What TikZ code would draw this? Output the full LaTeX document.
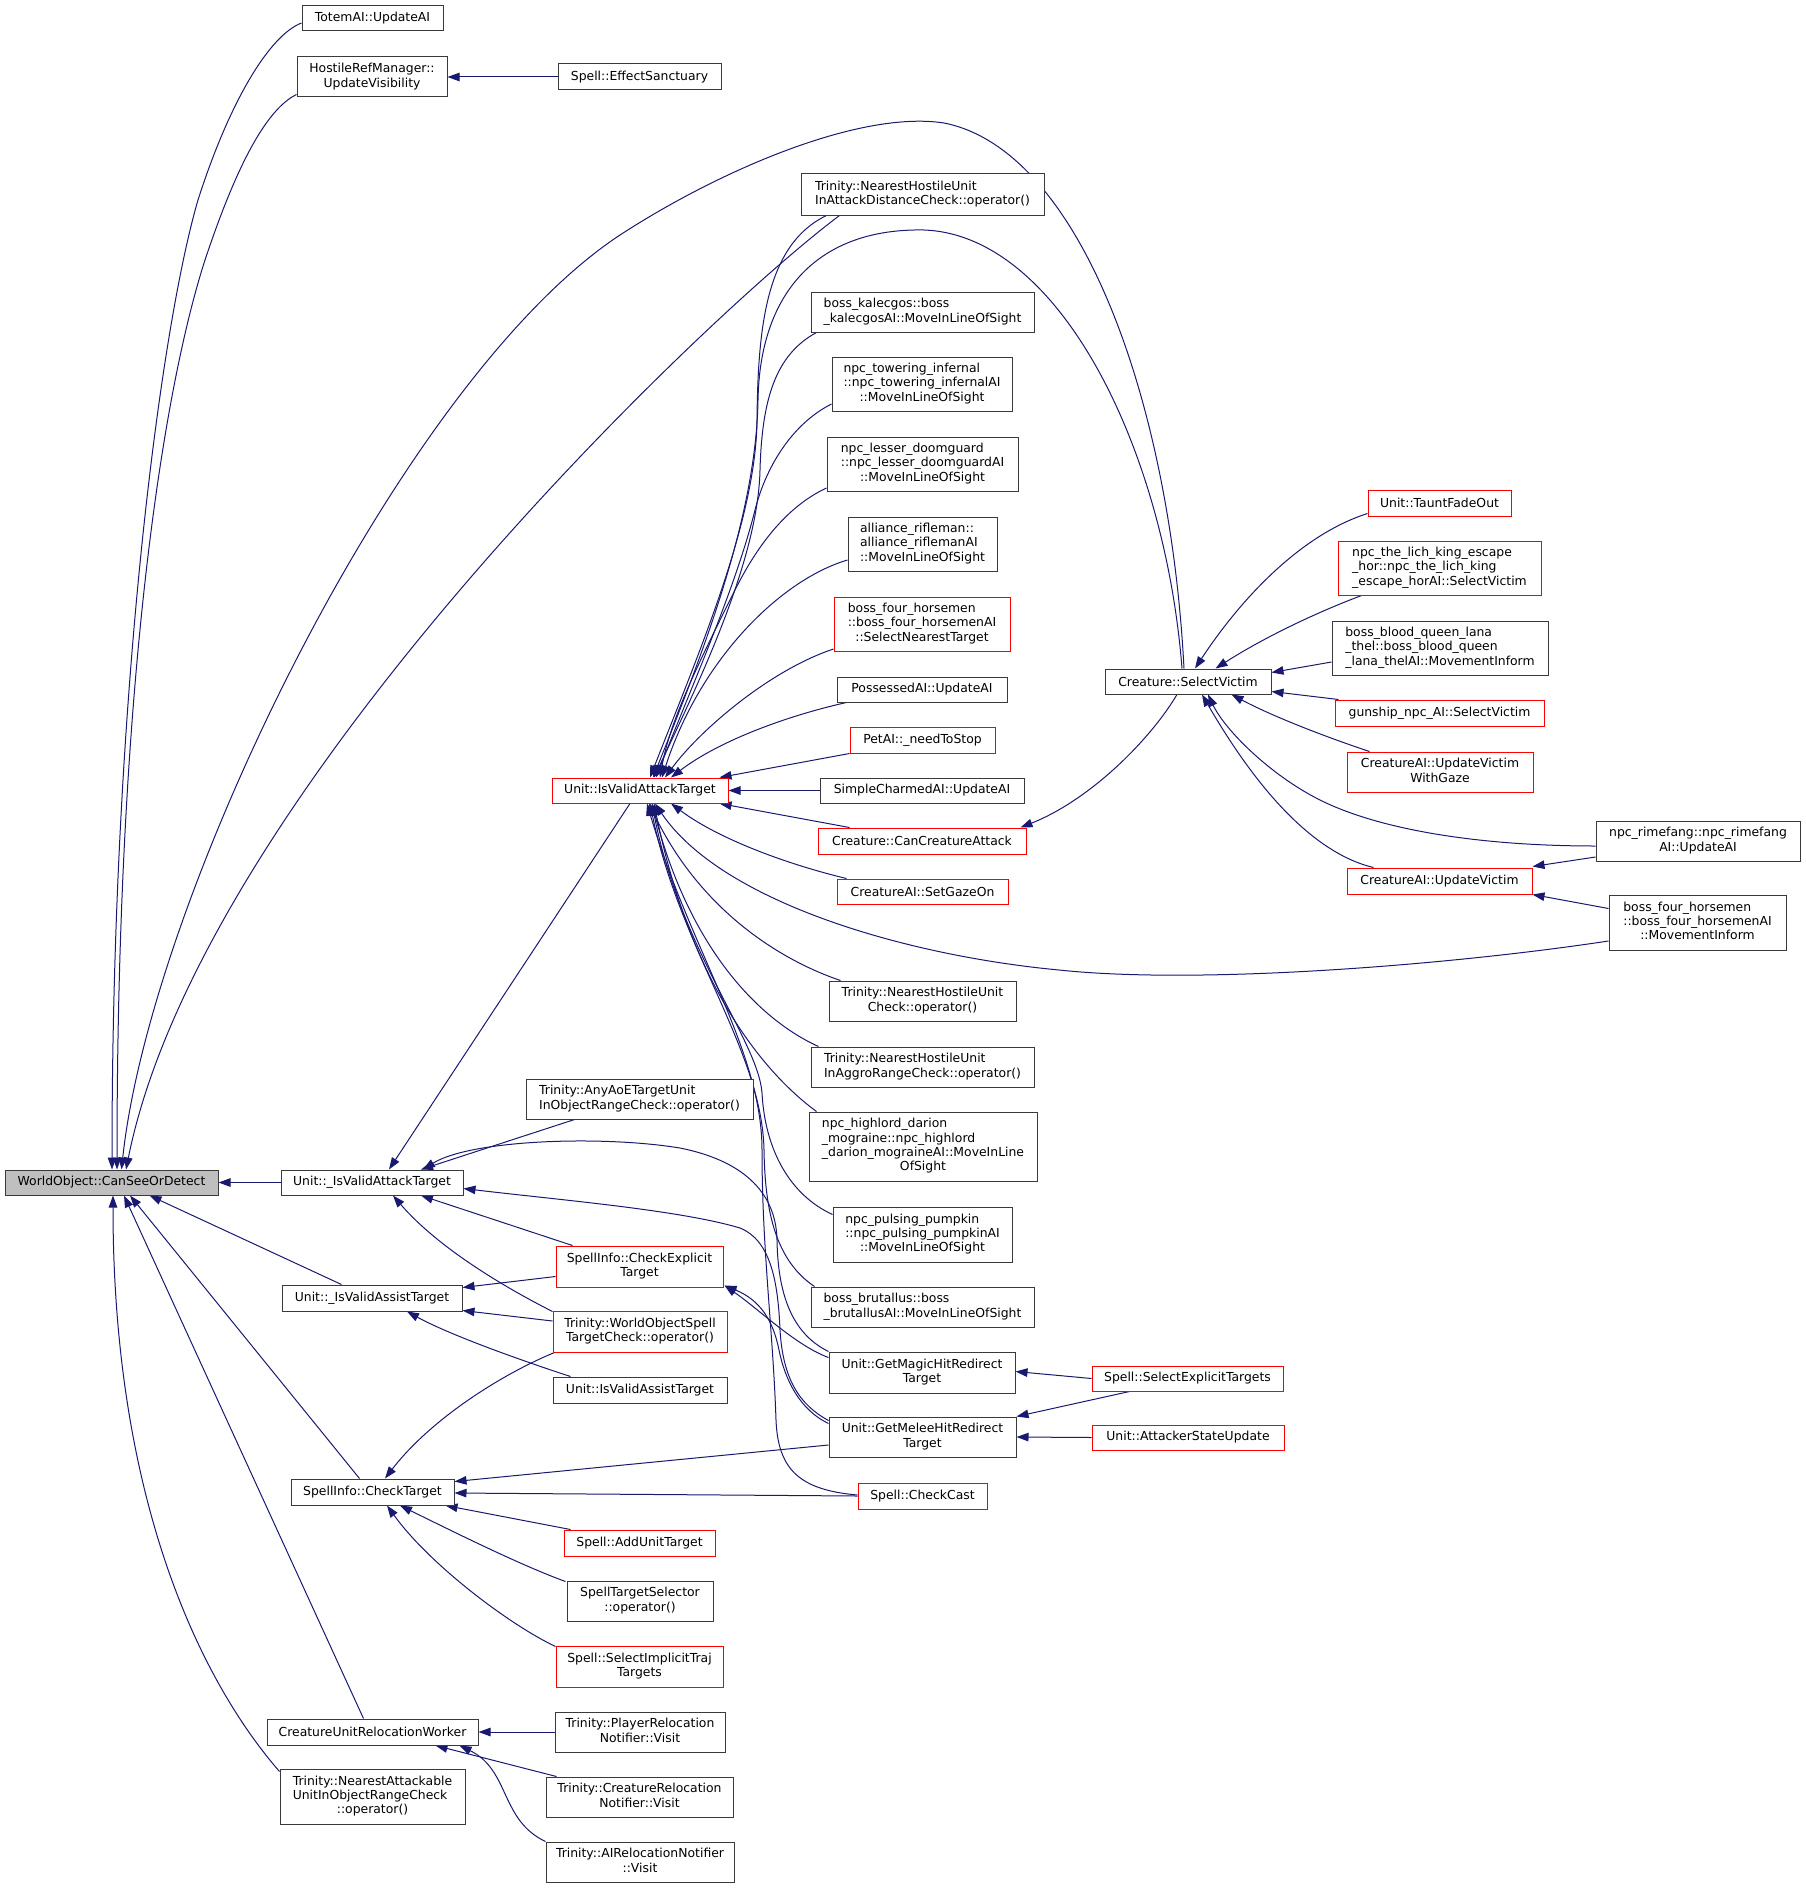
\documentclass[tikz,border=0pt]{standalone}
\usepackage{fontspec}
\setmainfont{DejaVu Sans}
\usetikzlibrary{arrows.meta,calc}
\definecolor{edgec}{HTML}{191970}
\definecolor{boxc}{HTML}{3A3A3A}
\definecolor{redc}{HTML}{FF0000}
\definecolor{rootc}{HTML}{BFBFBF}
\newcommand\mlab[2]{\begin{tabular}{@{}l@{}}#1\\\multicolumn{1}{@{}c@{}}{#2}\end{tabular}}
\pgfdeclarelayer{bg}
\pgfsetlayers{bg,main}
\tikzset{
  box/.style={draw=boxc, line width=1pt, fill=white, inner sep=0pt, align=center, font=\fontsize{12.4}{14.3}\selectfont},
  rbox/.style={box, draw=redc},
  sz/.style 2 args={minimum width=#1, minimum height=#2},
  e/.style={draw=edgec, line width=1pt, -{Triangle[length=12pt,width=8.5pt]}}
}
\begin{document}
\begin{tikzpicture}[x=1pt,y=-1pt]
\useasboundingbox (0,0) rectangle (1805,1889);
\node[box,sz={213pt}{25pt},fill=rootc] (csod) at (111.5,1182.5) {WorldObject::CanSeeOrDetect};
\node[box,sz={141pt}{25pt}] (totem) at (372.5,18.5) {TotemAI::UpdateAI};
\node[box,sz={150pt}{40pt}] (hostile) at (372,77) {\mlab{HostileRefManager::}{UpdateVisibility}};
\node[box,sz={163pt}{26pt}] (sanct) at (639.5,77) {Spell::EffectSanctuary};
\node[box,sz={243pt}{41pt}] (nhuad) at (922.5,194.5) {\mlab{Trinity::NearestHostileUnit}{InAttackDistanceCheck::operator()}};
\node[box,sz={223pt}{40pt}] (kalec) at (922.5,312) {\mlab{boss\_kalecgos::boss}{\_kalecgosAI::MoveInLineOfSight}};
\node[box,sz={180pt}{54pt}] (tower) at (922,384) {\mlab{npc\_towering\_infernal\\::npc\_towering\_infernalAI}{::MoveInLineOfSight}};
\node[box,sz={191pt}{54pt}] (doom) at (922.5,464) {\mlab{npc\_lesser\_doomguard\\::npc\_lesser\_doomguardAI}{::MoveInLineOfSight}};
\node[box,sz={149pt}{54pt}] (rifle) at (922.5,544) {\mlab{alliance\_rifleman::\\alliance\_riflemanAI}{::MoveInLineOfSight}};
\node[rbox,sz={176pt}{54pt}] (bfhsnt) at (922,624) {\mlab{boss\_four\_horsemen\\::boss\_four\_horsemenAI}{::SelectNearestTarget}};
\node[box,sz={170pt}{25pt}] (poss) at (922,689.5) {PossessedAI::UpdateAI};
\node[rbox,sz={145pt}{26pt}] (petai) at (922.5,740) {PetAI::\_needToStop};
\node[rbox,sz={176pt}{25pt}] (ivat) at (640,790.5) {Unit::IsValidAttackTarget};
\node[box,sz={204pt}{25pt}] (simple) at (922,790.5) {SimpleCharmedAI::UpdateAI};
\node[rbox,sz={208pt}{26pt}] (cca) at (922,841) {Creature::CanCreatureAttack};
\node[rbox,sz={171pt}{25pt}] (gaze) at (922.5,891.5) {CreatureAI::SetGazeOn};
\node[box,sz={187pt}{40pt}] (nhuc) at (922.5,1001) {\mlab{Trinity::NearestHostileUnit}{Check::operator()}};
\node[box,sz={223pt}{40pt}] (aggro) at (922.5,1067) {\mlab{Trinity::NearestHostileUnit}{InAggroRangeCheck::operator()}};
\node[box,sz={228pt}{69pt}] (darion) at (923,1146.5) {\mlab{npc\_highlord\_darion\\\_mograine::npc\_highlord\\\_darion\_mograineAI::MoveInLine}{OfSight}};
\node[box,sz={179pt}{55pt}] (pump) at (922.5,1234.5) {\mlab{npc\_pulsing\_pumpkin\\::npc\_pulsing\_pumpkinAI}{::MoveInLineOfSight}};
\node[box,sz={223pt}{40pt}] (brut) at (922.5,1307) {\mlab{boss\_brutallus::boss}{\_brutallusAI::MoveInLineOfSight}};
\node[box,sz={186pt}{41pt}] (magic) at (922,1372.5) {\mlab{Unit::GetMagicHitRedirect}{Target}};
\node[box,sz={187pt}{40pt}] (melee) at (922.5,1437) {\mlab{Unit::GetMeleeHitRedirect}{Target}};
\node[rbox,sz={129pt}{26pt}] (checkcast) at (922.5,1496) {Spell::CheckCast};
\node[rbox,sz={191pt}{25pt}] (selexp) at (1187.5,1378.5) {Spell::SelectExplicitTargets};
\node[rbox,sz={192pt}{25pt}] (asu) at (1188,1437.5) {Unit::AttackerStateUpdate};
\node[box,sz={166pt}{25pt}] (sv) at (1188,681.5) {Creature::SelectVictim};
\node[rbox,sz={143pt}{26pt}] (tfo) at (1439.5,503) {Unit::TauntFadeOut};
\node[rbox,sz={203pt}{54pt}] (lich) at (1439.5,568) {\mlab{npc\_the\_lich\_king\_escape\\\_hor::npc\_the\_lich\_king}{\_escape\_horAI::SelectVictim}};
\node[box,sz={216pt}{54pt}] (bbq) at (1440,648) {\mlab{boss\_blood\_queen\_lana\\\_thel::boss\_blood\_queen}{\_lana\_thelAI::MovementInform}};
\node[rbox,sz={209pt}{26pt}] (gunship) at (1439.5,713) {gunship\_npc\_AI::SelectVictim};
\node[rbox,sz={186pt}{40pt}] (uvgaze) at (1440,772) {\mlab{CreatureAI::UpdateVictim}{WithGaze}};
\node[rbox,sz={185pt}{26pt}] (uv) at (1439.5,881) {CreatureAI::UpdateVictim};
\node[box,sz={204pt}{40pt}] (rime) at (1698,841) {\mlab{npc\_rimefang::npc\_rimefang}{AI::UpdateAI}};
\node[box,sz={177pt}{55pt}] (bfhmi) at (1697.5,922.5) {\mlab{boss\_four\_horsemen\\::boss\_four\_horsemenAI}{::MovementInform}};
\node[box,sz={182pt}{25pt}] (uivat) at (372,1182.5) {Unit::\_IsValidAttackTarget};
\node[box,sz={227pt}{40pt}] (anyaoe) at (639.5,1099) {\mlab{Trinity::AnyAoETargetUnit}{InObjectRangeCheck::operator()}};
\node[rbox,sz={167pt}{41pt}] (cet) at (639.5,1266.5) {\mlab{SpellInfo::CheckExplicit}{Target}};
\node[box,sz={180pt}{26pt}] (uivast) at (372,1298) {Unit::\_IsValidAssistTarget};
\node[rbox,sz={174pt}{41pt}] (wostc) at (640,1331.5) {\mlab{Trinity::WorldObjectSpell}{TargetCheck::operator()}};
\node[box,sz={174pt}{26pt}] (iast) at (640,1390) {Unit::IsValidAssistTarget};
\node[box,sz={163pt}{26pt}] (ct) at (372.5,1492) {SpellInfo::CheckTarget};
\node[rbox,sz={151pt}{26pt}] (aut) at (639.5,1543) {Spell::AddUnitTarget};
\node[box,sz={146pt}{40pt}] (sts) at (640,1601) {\mlab{SpellTargetSelector}{::operator()}};
\node[rbox,sz={167pt}{41pt}] (sitt) at (639.5,1666.5) {\mlab{Spell::SelectImplicitTraj}{Targets}};
\node[box,sz={211pt}{26pt}] (curw) at (372.5,1732) {CreatureUnitRelocationWorker};
\node[box,sz={170pt}{40pt}] (prn) at (640,1732) {\mlab{Trinity::PlayerRelocation}{Notifier::Visit}};
\node[box,sz={185pt}{55pt}] (naur) at (372.5,1796.5) {\mlab{Trinity::NearestAttackable\\UnitInObjectRangeCheck}{::operator()}};
\node[box,sz={187pt}{40pt}] (crn) at (639.5,1797) {\mlab{Trinity::CreatureRelocation}{Notifier::Visit}};
\node[box,sz={188pt}{40pt}] (airn) at (640,1862) {\mlab{Trinity::AIRelocationNotifier}{::Visit}};

\begin{pgfonlayer}{bg}
% into CanSeeOrDetect
\draw[e] ($(totem.west)+(0,4.5)$) .. controls (270,35) and (230,100) .. (198,200) .. controls (160,330) and (112,700) .. ($(csod.north)+(0.5,0)$);
\draw[e] ($(hostile.south west)+(0,-3)$) .. controls (265,110) and (235,170) .. (205,260) .. controls (160,400) and (117,700) .. ($(csod.north)+(5.5,0)$);
\draw[e] ($(sv.north)+(-4,0)$) .. controls (1170,400) and (1080,150) .. (944,123) .. controls (860,110) and (720,170) .. (620,235) .. controls (400,380) and (150,900) .. ($(csod.north)+(10,0)$);
\draw[e] ($(nhuad.south west)+(39,0)$) .. controls (700,320) and (200,800) .. ($(csod.north)+(14.5,0)$);
\draw[e] (uivat.west) -- (csod.east);
\draw[e] ($(uivast.north west)+(60,0)$) -- ($(csod.south)+(38,0)$);
\draw[e] ($(ct.north west)+(69,0)$) -- ($(csod.south)+(18.5,0)$);
\draw[e] ($(curw.north west)+(97,0)$) -- ($(csod.south)+(12.5,0)$);
\draw[e] ($(naur.north west)+(0,3)$) .. controls (200,1680) and (113,1500) .. ($(csod.south)+(1.5,0)$);
\draw[e] (sanct.west) -- (hostile.east);
% into IsValidAttackTarget (top)
\draw[e] ($(nhuad.south west)+(26,0)$) .. controls (765,245) and (758,330) .. (757,420) .. controls (756,520) and (700,650) .. ($(ivat.north)+(10,0)$);
\draw[e] ($(sv.north)+(-6,0)$) .. controls (1165,450) and (1060,235) .. (924,230) .. controls (820,228) and (760,290) .. (758,400) .. controls (756,520) and (700,660) .. ($(ivat.north)+(13,0)$);
\draw[e] ($(kalec.south west)+(6,0)$) .. controls (775,355) and (762,400) .. (760,470) .. controls (758,560) and (700,680) .. ($(ivat.north)+(14,0)$);
\draw[e] ($(tower.west)+(0,20)$) .. controls (790,425) and (765,470) .. (755,510) .. controls (735,590) and (690,690) .. ($(ivat.north)+(16,0)$);
\draw[e] ($(doom.west)+(0,24)$) .. controls (790,505) and (760,540) .. (735,590) .. controls (700,660) and (670,720) .. ($(ivat.north)+(20,0)$);
\draw[e] ($(rifle.west)+(0,16)$) .. controls (780,580) and (700,660) .. ($(ivat.north)+(22,0)$);
\draw[e] ($(bfhsnt.west)+(0,25)$) .. controls (770,670) and (700,730) .. ($(ivat.north)+(25,0)$);
\draw[e] ($(poss.south west)+(10,0)$) .. controls (790,715) and (720,740) .. ($(ivat.north)+(31,0)$);
\draw[e] (petai.south west) -- ($(ivat.north east)+(-9,0)$);
\draw[e] (simple.west) -- (ivat.east);
% into IsValidAttackTarget (bottom)
\draw[e] ($(cca.north west)+(32,0)$) -- ($(ivat.south east)+(-9,0)$);
\draw[e] ($(gaze.north west)+(10,0)$) .. controls (790,865) and (720,840) .. ($(ivat.south)+(31,0)$);
\draw[e] ($(bfhmi.west)+(0,18.5)$) .. controls (1450,965) and (1200,985) .. (1059,970) .. controls (900,955) and (720,900) .. ($(ivat.south)+(15,0)$);
\draw[e] ($(nhuc.north west)+(12,0)$) .. controls (780,960) and (700,910) .. ($(ivat.south)+(9,0)$);
\draw[e] ($(aggro.north west)+(8,0)$) .. controls (760,1020) and (690,950) .. ($(ivat.south)+(12,0)$);
\draw[e] ($(darion.north west)+(8,0)$) .. controls (760,1070) and (690,980) .. ($(ivat.south)+(14,0)$);
\draw[e] ($(pump.north west)+(0,8)$) .. controls (790,1195) and (765,1150) .. (762,1093) .. controls (758,1040) and (680,950) .. ($(ivat.south)+(12,0)$);
\draw[e] ($(brut.north west)+(4,0)$) .. controls (775,1260) and (765,1210) .. (764,1150) .. controls (762,1050) and (680,950) .. ($(ivat.south)+(10,0)$);
\draw[e] ($(checkcast.west)+(0,-1)$) .. controls (800,1490) and (778,1470) .. (776,1420) .. controls (773,1330) and (762,1250) .. (762,1150) .. controls (762,1050) and (690,950) .. ($(ivat.south)+(7,0)$);
% Creature::SelectVictim
\draw[e] ($(sv.south)+(-11,0)$) .. controls (1150,740) and (1090,800) .. ($(cca.north east)+(-6,0)$);
\draw[e] ($(tfo.south west)+(0,-3)$) .. controls (1300,535) and (1240,600) .. ($(sv.north)+(7,0)$);
\draw[e] ($(lich.south west)+(24,0)$) .. controls (1310,615) and (1260,640) .. ($(sv.north east)+(-56,0)$);
\draw[e] ($(bbq.west)+(0,14)$) -- ($(sv.north east)+(0,4)$);
\draw[e] ($(gunship.north west)+(4,0)$) -- ($(sv.south east)+(0,-3)$);
\draw[e] ($(uvgaze.north west)+(23,0)$) .. controls (1320,735) and (1270,715) .. ($(sv.south east)+(-40,0)$);
\draw[e] ($(rime.west)+(0,5)$) .. controls (1480,846) and (1380,830) .. (1320,800) .. controls (1270,775) and (1225,730) .. ($(sv.south)+(20,0)$);
\draw[e] ($(uv.north west)+(27,0)$) .. controls (1300,850) and (1240,760) .. ($(sv.south)+(14,0)$);
\draw[e] ($(rime.west)+(0,16)$) -- ($(uv.north east)+(0,-1)$);
\draw[e] ($(bfhmi.west)+(0,-14)$) -- (uv.south east);
% _IsValidAttackTarget
\draw[e] ($(ivat.south)+(-10,0)$) -- ($(uivat.north)+(17,0)$);
\draw[e] ($(anyaoe.south west)+(49,0)$) -- ($(uivat.north)+(49,0)$);
\draw[e] ($(cet.north west)+(17,0)$) -- ($(uivat.south)+(49,0)$);
\draw[e] ($(wostc.north west)+(0,1)$) .. controls (510,1290) and (440,1250) .. ($(uivat.south)+(21,0)$);
\draw[e] (magic.north west) .. controls (795,1335) and (778,1300) .. (777,1240) .. controls (776,1190) and (740,1160) .. (680,1148) .. controls (600,1135) and (470,1140) .. ($(uivat.north)+(51,0)$);
\draw[e] ($(melee.north west)+(0,4)$) .. controls (800,1405) and (783,1380) .. (780,1330) .. controls (778,1280) and (770,1240) .. (740,1228) .. controls (680,1210) and (560,1200) .. ($(uivat.east)+(0,6)$);
% CheckExplicitTarget
\draw[e] ($(magic.north west)+(0,6)$) .. controls (795,1345) and (760,1310) .. ($(cet.south east)+(1,-2)$);
\draw[e] ($(melee.north west)+(0,7)$) .. controls (800,1410) and (785,1380) .. (779,1350) .. controls (773,1320) and (760,1300) .. ($(cet.south east)+(1,-2)$);
% _IsValidAssistTarget
\draw[e] ($(cet.west)+(0,10)$) -- ($(uivast.north east)+(0,3)$);
\draw[e] ($(wostc.west)+(0,-10.5)$) -- ($(uivast.south east)+(0,-1)$);
\draw[e] ($(iast.north west)+(18,0)$) .. controls (520,1360) and (450,1335) .. ($(uivast.south)+(35,0)$);
% CheckTarget
\draw[e] ($(wostc.south west)+(2,0)$) .. controls (500,1375) and (430,1420) .. ($(ct.north)+(12.5,0)$);
\draw[e] ($(melee.west)+(0,8)$) -- ($(ct.north east)+(0,3)$);
\draw[e] (checkcast.west) -- ($(ct.east)+(0,1)$);
\draw[e] ($(aut.north west)+(7,0)$) -- ($(ct.south east)+(-9,0)$);
\draw[e] ($(sts.north west)+(-1,1)$) .. controls (520,1565) and (450,1530) .. ($(ct.south)+(27.5,0)$);
\draw[e] ($(sitt.north west)+(0,1)$) .. controls (510,1625) and (430,1565) .. ($(ct.south)+(14.5,0)$);
% CreatureUnitRelocationWorker
\draw[e] (prn.west) -- (curw.east);
\draw[e] ($(crn.north west)+(11,0)$) -- ($(curw.south east)+(-43,0)$);
\draw[e] (airn.north west) .. controls (500,1820) and (510,1770) .. ($(curw.south east)+(-19,0)$);
% redirect targets
\draw[e] (selexp.west) -- ($(magic.east)+(0,-1)$);
\draw[e] ($(selexp.south west)+(38,0)$) -- (melee.north east);
\draw[e] (asu.west) -- (melee.east);
\end{pgfonlayer}
\end{tikzpicture}
\end{document}
